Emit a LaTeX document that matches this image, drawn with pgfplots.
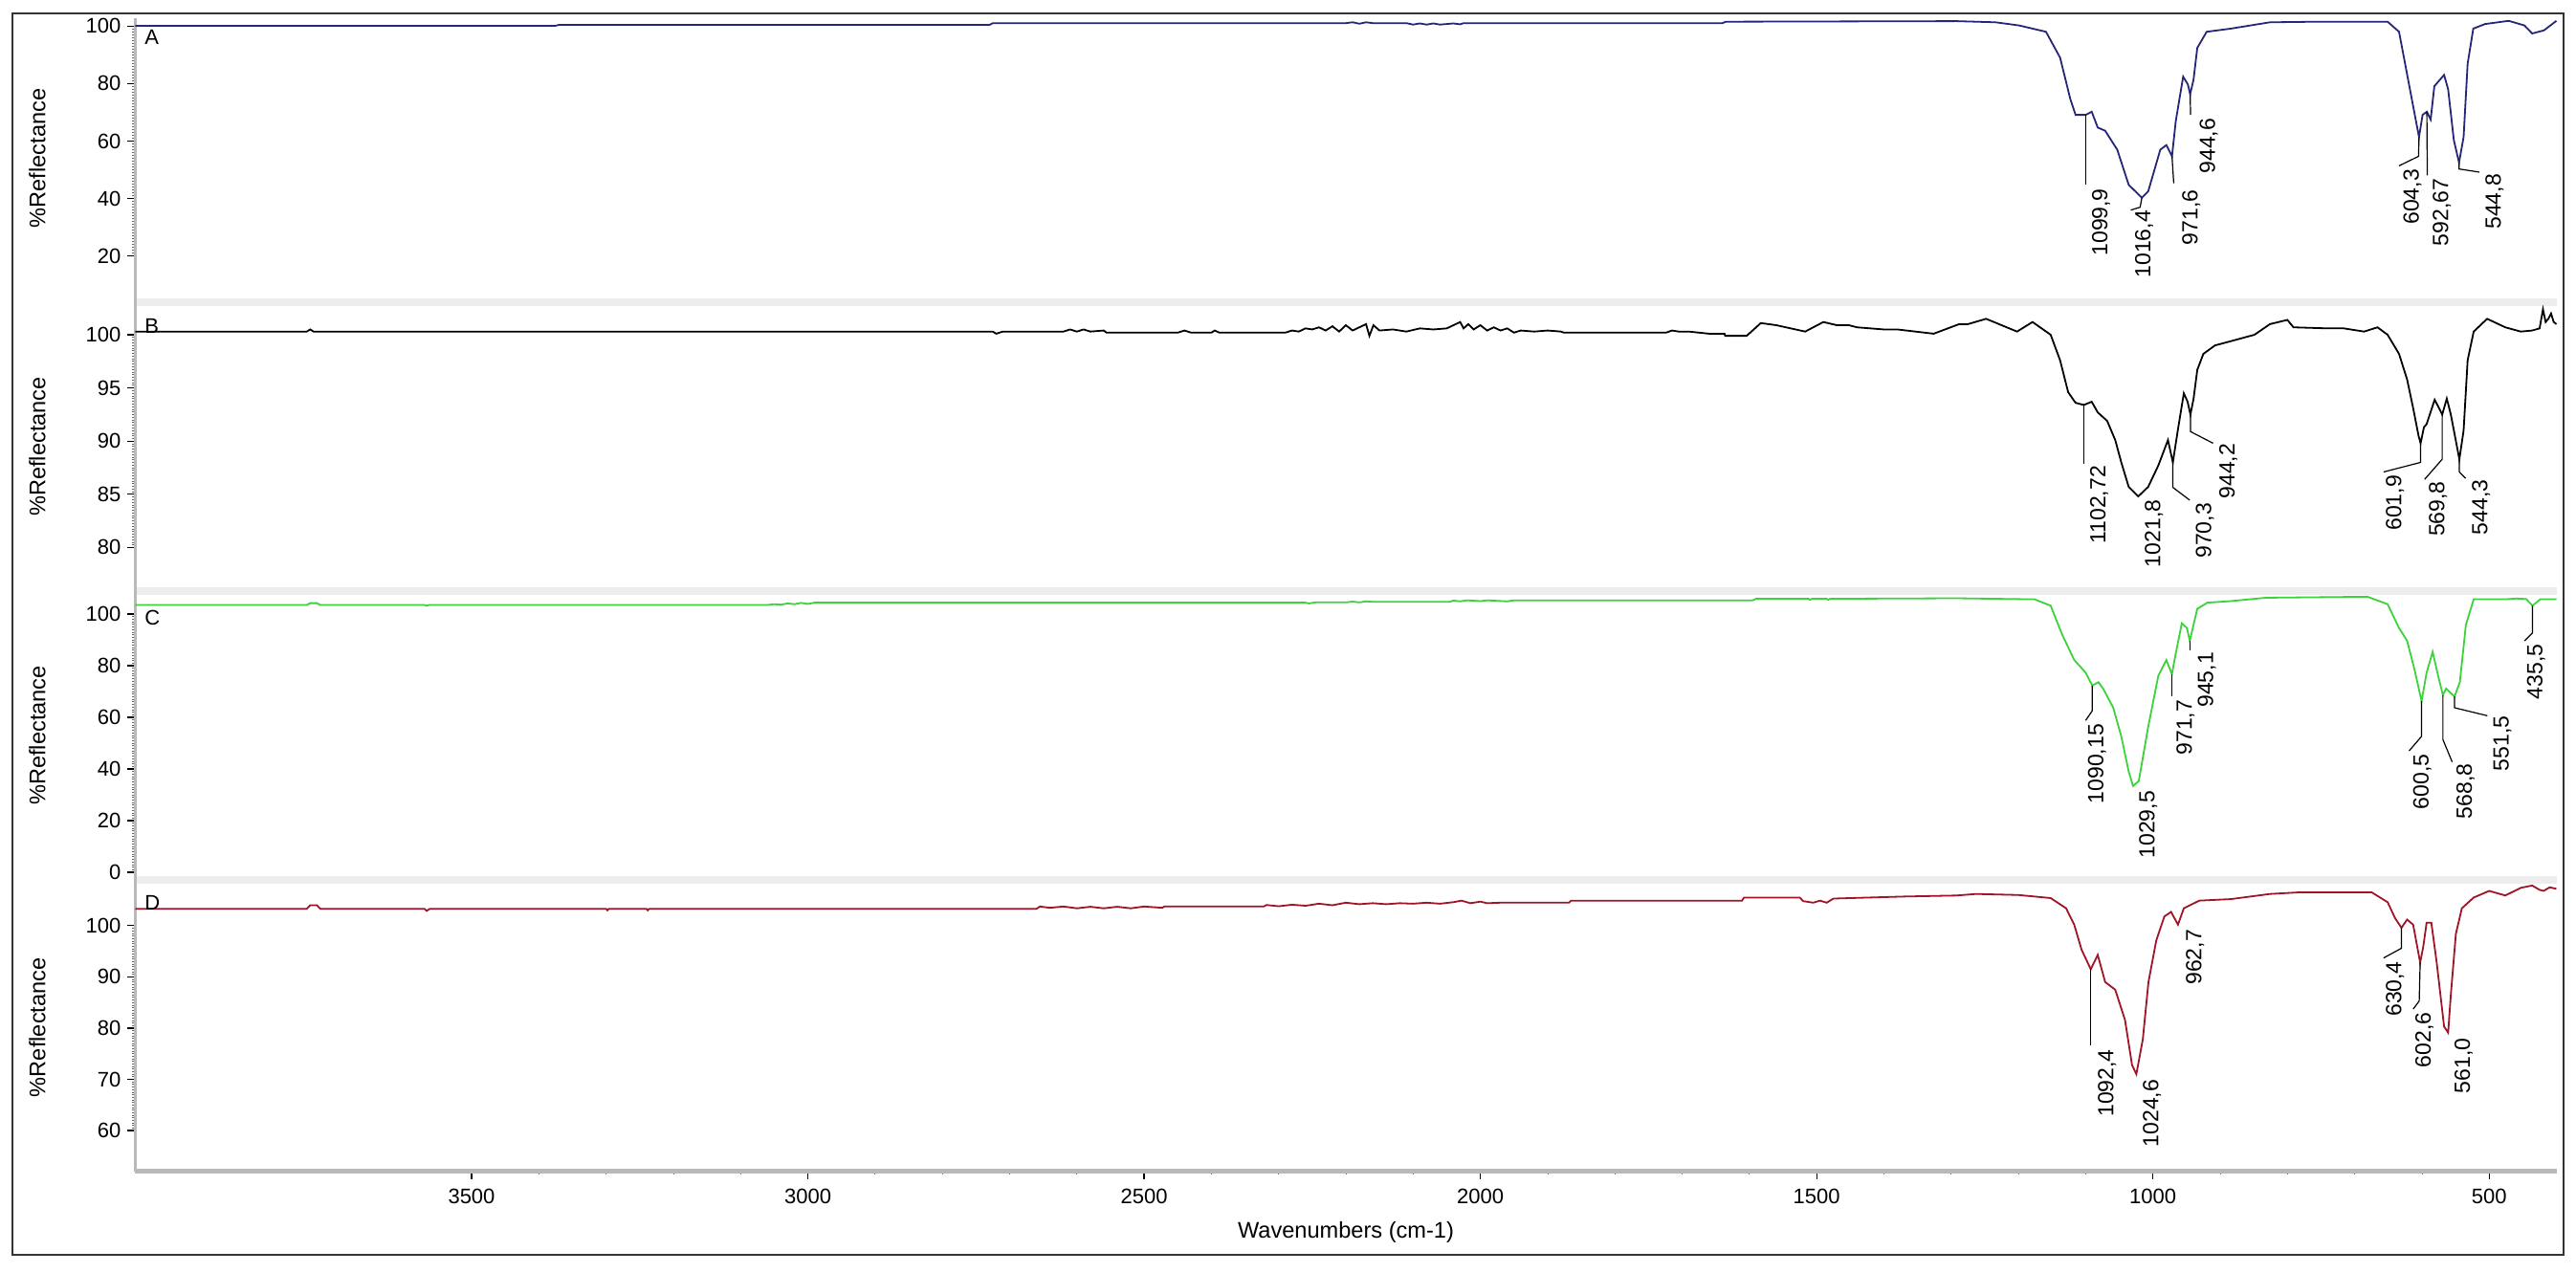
\documentclass[border=0pt]{standalone}
\usepackage{fontspec}
\setmainfont{Liberation Sans}
\usepackage{pgfplots}
\pgfplotsset{compat=1.18}
\definecolor{cA}{RGB}{38,38,120}
\definecolor{cC}{RGB}{60,210,60}
\definecolor{cD}{RGB}{160,20,40}
\newcommand{\lbl}{\fontsize{11.5}{13}\selectfont}
\pgfplotsset{
  spec/.style={
    scale only axis, width=1265.55pt, x dir=reverse, xmin=400, xmax=4000,
    axis y line*=left,
    y axis line style={draw=gray!55, line width=1.5pt, -},
    tick align=outside,
    major tick length=4pt, minor tick length=1.6pt,
    major tick style={black, line width=0.6pt},
    minor tick style={black!60, line width=0.35pt},
    minor y tick num=19,
    yticklabel style={font=\fontsize{11}{13}\selectfont},
    ylabel={\%Reflectance},
    ylabel style={at={(axis description cs:-0.0405,0.5)}, anchor=center, font=\fontsize{11.8}{13}\selectfont},
    /pgf/number format/assume math mode=true,
    /pgf/number format/1000 sep={},
    scaled ticks=false,
    clip=false,
  },
  lead/.style={black, line width=0.6pt, forget plot},
}
\begin{document}
\begin{tikzpicture}
\path[use as bounding box] (0,0) rectangle (1346.5pt,665pt);
\fill[white] (0,0) rectangle (1346.5pt,665pt);
% separator bands
\fill[gray!14] (70.75pt,505pt) rectangle (1336.3pt,509pt);
\fill[gray!14] (70.75pt,354pt) rectangle (1336.3pt,358pt);
\fill[gray!14] (70.75pt,203pt) rectangle (1336.3pt,207pt);
\draw[gray!55, line width=1.5pt] (70.75pt,52.75pt) -- (70.75pt,655.6pt);

% ---------------- Panel A ----------------
\begin{axis}[spec, axis x line=none, at={(70.75pt,509pt)}, anchor=south west, height=146.6pt,
  ymin=5.3, ymax=102.8, ytick={20,40,60,80,100}]
\addplot[cA, line width=0.9pt] coordinates {
(4000,100.1) (3375,100.1) (3370,100.4) (2730,100.4) (2725,101.0) (2200,101.0) (2190,101.3) (2180,100.8) (2170,101.3) (2160,101.0) (2110,101.0) (2100,100.5) (2090,100.9) (2080,100.5) (2070,100.9) (2060,100.5) (2040,100.9) (2030,100.6) (2025,101.0) (1640,101.0) (1635,101.5) (1292,101.7) (1234,101.3) (1199,100.2) (1159,98) (1138,89) (1123,74.8) (1115,69.1) (1099.9,69.1) (1091,70.2) (1082,64.7) (1071,63.6) (1053,57) (1036,44.8) (1016.4,40.3) (1007,42.5) (989,57) (980,58.6) (971.6,54.7) (966,66.9) (955,82.4) (948,79.7) (944.6,76.3) (939.6,81.3) (934,92.4) (920,98) (884,99.1) (826,101.3) (756,101.5) (651,101.5) (634,98) (616,75.8) (604.3,61.4) (599,69.1) (592.67,70.2) (587,67.5) (581.5,79.1) (567,83) (561,78) (552.5,60.3) (544.8,52.5) (538,61.4) (532,86.9) (523.6,99.1) (506,100.7) (471,101.8) (447.5,100.2) (436,97.4) (418.5,98.5) (400,101.8)};
\node[anchor=north west, inner sep=0pt, xshift=4.75pt, yshift=-6.1pt, font=\fontsize{11}{13}\selectfont] at (axis description cs:0,1) {A};
\addplot[lead] coordinates {(1099.9,69.1) (1099.9,44.8)};
\addplot[lead] coordinates {(1016.4,40.3) (1019,37) (1033,36)};
\addplot[lead] coordinates {(971.6,54.7) (969,45.3)};
\addplot[lead] coordinates {(944.6,76.3) (944,69.1)};
\addplot[lead] coordinates {(604.3,61.4) (605,54.7) (634,51.4)};
\addplot[lead] coordinates {(592.67,70.2) (592,48.1)};
\addplot[lead] coordinates {(544.8,52.5) (544.8,50.3) (514.6,49.2)};
\node[rotate=90, anchor=north east, inner sep=0pt, font=\lbl] at (axis cs:1091.1,43.6) {1099,9};
\node[rotate=90, anchor=north east, inner sep=0pt, font=\lbl] at (axis cs:1027,36.0) {1016,4};
\node[rotate=90, anchor=north east, inner sep=0pt, font=\lbl] at (axis cs:957,43.1) {971,6};
\node[rotate=90, anchor=north east, inner sep=0pt, font=\lbl] at (axis cs:931,68.0) {944,6};
\node[rotate=90, anchor=north east, inner sep=0pt, font=\lbl] at (axis cs:628,50.3) {604,3};
\node[rotate=90, anchor=north east, inner sep=0pt, font=\lbl] at (axis cs:584.4,47.0) {592,67};
\node[rotate=90, anchor=north east, inner sep=0pt, font=\lbl] at (axis cs:506,48.6) {544,8};
\end{axis}

% ---------------- Panel B ----------------
\begin{axis}[spec, axis x line=none, at={(70.75pt,358pt)}, anchor=south west, height=147pt,
  ymin=76.26, ymax=102.7, ytick={80,85,90,95,100}]
\addplot[black, line width=0.9pt] coordinates {
(4000,100.3) (3745,100.3) (3740,100.5) (3735,100.3) (2725,100.3) (2720,100.1) (2710,100.3) (2620,100.3) (2610,100.5) (2600,100.3) (2590,100.5) (2580,100.3) (2560,100.4) (2556,100.2) (2450,100.2) (2440,100.4) (2430,100.2) (2400,100.2) (2395,100.4) (2388,100.2) (2290,100.2) (2280,100.4) (2270,100.3) (2260,100.6) (2250,100.5) (2240,100.7) (2230,100.4) (2220,100.8) (2210,100.3) (2200,100.9) (2190,100.4) (2180,100.7) (2170,101.0) (2165,99.9) (2159,100.9) (2150,100.4) (2130,100.5) (2110,100.3) (2090,100.6) (2070,100.5) (2050,100.6) (2040,100.9) (2030,101.2) (2025,100.6) (2018,101.0) (2010,100.5) (2000,100.9) (1990,100.4) (1980,100.7) (1970,100.4) (1960,100.6) (1950,100.2) (1940,100.4) (1920,100.3) (1900,100.4) (1880,100.3) (1876,100.2) (1724,100.2) (1715,100.4) (1705,100.3) (1690,100.3) (1660,100.1) (1637,100.1) (1636,99.9) (1604,99.9) (1583,101.1) (1560,100.9) (1517,100.3) (1490,101.2) (1470,100.9) (1452,100.9) (1440,100.7) (1400,100.5) (1380,100.5) (1326,100.1) (1288,101.0) (1275,101.0) (1248,101.5) (1202,100.3) (1179,101.2) (1152,100) (1138,97.6) (1126,94.6) (1115,93.6) (1102.72,93.4) (1091,93.7) (1082,92.7) (1068,91.9) (1056,90.1) (1047,88.0) (1036,85.7) (1021.8,84.8) (1007,85.7) (992,87.7) (977.6,90.1) (970.3,88.0) (963,91.0) (954,94.5) (948.4,93.7) (944.2,92.5) (939.5,94.0) (934,96.7) (925,98.2) (907.6,99) (884,99.4) (849,100) (826,101) (800,101.4) (791,100.7) (739,100.6) (716,100.6) (686,100.3) (666,100.7) (651,100) (634,98.2) (622,95.8) (613,93.1) (605,90.5) (601.9,89.8) (597,91.3) (593,91.6) (581,93.9) (569.8,92.5) (563,94.0) (557,92.5) (544.3,88.3) (538,91) (532,97.6) (523,100.3) (503,101.5) (476,100.7) (453,100.3) (436,100.4) (425,100.6) (420,102.4) (416,101.2) (412,101.5) (408,102) (404,101.2) (400,101)};
\node[anchor=north west, inner sep=0pt, xshift=4.75pt, yshift=-6.5pt, font=\fontsize{11}{13}\selectfont] at (axis description cs:0,1) {B};
\addplot[lead] coordinates {(1102.72,93.4) (1102.72,87.9)};
\addplot[lead] coordinates {(970.3,88.0) (970.3,85.65) (945.3,84.45)};
\addplot[lead] coordinates {(944.2,92.5) (944.2,90.9) (910.5,89.8)};
\addplot[lead] coordinates {(601.9,89.8) (601.9,88.0) (657,87.1)};
\addplot[lead] coordinates {(569.8,92.5) (569.8,88.3) (596,86.4)};
\addplot[lead] coordinates {(544.3,88.3) (544.3,87.1) (535,86.5)};
\node[rotate=90, anchor=north east, inner sep=0pt, font=\lbl] at (axis cs:1094,87.7) {1102,72};
\node[rotate=90, anchor=north east, inner sep=0pt, font=\lbl] at (axis cs:1012.6,84.5) {1021,8};
\node[rotate=90, anchor=north east, inner sep=0pt, font=\lbl] at (axis cs:936.7,84.2) {970,3};
\node[rotate=90, anchor=north east, inner sep=0pt, font=\lbl] at (axis cs:902,89.8) {944,2};
\node[rotate=90, anchor=north east, inner sep=0pt, font=\lbl] at (axis cs:654,86.8) {601,9};
\node[rotate=90, anchor=north east, inner sep=0pt, font=\lbl] at (axis cs:590,86.25) {569,8};
\node[rotate=90, anchor=north east, inner sep=0pt, font=\lbl] at (axis cs:526,86.4) {544,3};
\end{axis}

% ---------------- Panel C ----------------
\begin{axis}[spec, axis x line=none, at={(70.75pt,207pt)}, anchor=south west, height=147pt,
  ymin=-1.5, ymax=107.4, ytick={0,20,40,60,80,100}]
\addplot[cC, line width=0.9pt] coordinates {
(4000,103.5) (3745,103.5) (3740,104.2) (3730,104.2) (3725,103.5) (3570,103.5) (3567,103.2) (3563,103.5) (3060,103.5) (3050,103.8) (3040,103.6) (3030,104.1) (3020,103.8) (3010,104.3) (3000,103.9) (2990,104.4) (2260,104.4) (2255,104.1) (2245,104.5) (2200,104.5) (2190,104.8) (2180,104.5) (2170,104.9) (2160,104.7) (2046,104.7) (2040,105.2) (2030,104.9) (2020,105.3) (2000,105.0) (1990,105.3) (1960,104.9) (1950,105.3) (1595,105.3) (1590,105.9) (1512,105.9) (1510,105.5) (1507,105.9) (1485,105.9) (1483,105.5) (1480,105.9) (1292,106.1) (1176,105.7) (1152,103.2) (1135,92.1) (1117,82.2) (1100,77.3) (1090.15,72.3) (1081,73.6) (1074,71.1) (1059,63.7) (1047,52.6) (1036,39) (1029.5,33.4) (1021,35.3) (1007,56.3) (992,76) (980,82.2) (971.7,76.7) (966,84.7) (957,96.4) (949.5,94.6) (945.1,89.6) (939.6,95.8) (934,102) (919,104.4) (884,105) (832,106.3) (681,106.7) (651,103.8) (634,94.6) (622,89.6) (611,78.5) (600.5,66.2) (593,77.3) (584,85.3) (577,77.3) (568.8,68.6) (564,71.1) (551.5,68) (543.6,73.6) (534.6,95.8) (523,105.7) (476,105.7) (460,106) (445,105.8) (435.5,103.2) (424,105.7) (400,105.7)};
\node[anchor=north west, inner sep=0pt, xshift=4.75pt, yshift=-8pt, font=\fontsize{11}{13}\selectfont] at (axis description cs:0,1) {C};
\addplot[lead] coordinates {(1090.15,72.3) (1090.15,62.5) (1100,58.8)};
\addplot[lead] coordinates {(971.7,76.7) (971.7,68)};
\addplot[lead] coordinates {(945.1,89.6) (945.1,85.9)};
\addplot[lead] coordinates {(600.5,66.2) (600.5,52.6) (619,47)};
\addplot[lead] coordinates {(568.8,68.6) (568.8,51.4) (555,42.7)};
\addplot[lead] coordinates {(551.5,68) (551.5,63.7) (502.7,60.6)};
\addplot[lead] coordinates {(435.5,103.2) (435.5,92.7) (447.5,89.6)};
\node[rotate=90, anchor=north east, inner sep=0pt, font=\lbl] at (axis cs:1097,57.5) {1090,15};
\node[rotate=90, anchor=north east, inner sep=0pt, font=\lbl] at (axis cs:1021,31.6) {1029,5};
\node[rotate=90, anchor=north east, inner sep=0pt, font=\lbl] at (axis cs:965.6,66.8) {971,7};
\node[rotate=90, anchor=north east, inner sep=0pt, font=\lbl] at (axis cs:933.8,85.3) {945,1};
\node[rotate=90, anchor=north east, inner sep=0pt, font=\lbl] at (axis cs:613.4,45.8) {600,5};
\node[rotate=90, anchor=north east, inner sep=0pt, font=\lbl] at (axis cs:549,42.1) {568,8};
\node[rotate=90, anchor=north east, inner sep=0pt, font=\lbl] at (axis cs:493.9,60.6) {551,5};
\node[rotate=90, anchor=north east, inner sep=0pt, font=\lbl] at (axis cs:444.4,88.4) {435,5};
\end{axis}

% ---------------- Panel D ----------------
\begin{axis}[spec, at={(70.75pt,52.75pt)}, anchor=south west, height=150.25pt,
  ymin=52.06, ymax=108.2, ytick={60,70,80,90,100},
  axis x line*=bottom,
  x axis line style={draw=gray!55, line width=2.5pt, -},
  xtick={500,1000,1500,2000,2500,3000,3500}, minor x tick num=4,
  xticklabel style={font=\fontsize{11}{13}\selectfont, yshift=-2pt},
  xlabel={Wavenumbers (cm-1)},
  xlabel style={at={(axis description cs:0.5,-0.211)}, anchor=center, font=\fontsize{11.8}{13}\selectfont}]
\addplot[cD, line width=0.9pt] coordinates {
(4000,103.3) (3745,103.3) (3740,104.0) (3730,104.0) (3725,103.3) (3570,103.3) (3567,102.9) (3562,103.3) (3300,103.3) (3298,103.0) (3296,103.3) (3240,103.3) (3238,103.0) (3236,103.3) (2660,103.3) (2655,103.75) (2640,103.5) (2620,103.75) (2600,103.4) (2580,103.7) (2560,103.4) (2540,103.7) (2520,103.4) (2500,103.75) (2473,103.5) (2470,103.75) (2322,103.75) (2318,104.05) (2300,103.8) (2280,104.1) (2260,103.9) (2240,104.3) (2220,104.0) (2200,104.5) (2180,104.2) (2160,104.4) (2140,104.2) (2120,104.4) (2100,104.3) (2080,104.5) (2060,104.3) (2040,104.6) (2028,104.9) (2015,104.4) (2000,104.7) (1990,104.4) (1970,104.5) (1868,104.5) (1865,104.9) (1611,104.9) (1608,105.5) (1525,105.5) (1520,104.8) (1505,104.5) (1495,104.9) (1485,104.5) (1475,105.3) (1370,105.7) (1292,105.9) (1263,106.2) (1200,106) (1152,105.4) (1129,103.4) (1117,100.2) (1106,95.3) (1092.4,91.5) (1082,94.3) (1071,89) (1056,87.5) (1041.5,81.6) (1031,72.8) (1024.6,71) (1015,77.8) (1006.6,89) (995,97.1) (983,101.8) (973,102.7) (962.7,100.2) (954,103.4) (931,104.9) (884,105.2) (826,106.2) (785,106.5) (674.5,106.5) (651,104.6) (640,101.5) (630.4,99.6) (622,101.2) (613,100.2) (602.6,92.8) (598,95.9) (593,100.6) (586,100.6) (578,92.8) (567,80.3) (561,79.1) (557,86.5) (549.5,98.4) (540.6,103.4) (523,105.5) (500,106.8) (476,105.9) (453,107.4) (436,107.85) (425,107) (419,106.8) (410,107.5) (400,107.2)};
\node[anchor=north west, inner sep=0pt, xshift=4.75pt, yshift=-6pt, font=\fontsize{11}{13}\selectfont] at (axis description cs:0,1) {D};
\addplot[lead] coordinates {(1092.4,91.5) (1092.4,76.6)};
\addplot[lead] coordinates {(630.4,99.6) (630.4,95.6) (657,93.7)};
\addplot[lead] coordinates {(602.6,92.8) (604,85.3) (613,83.7)};
\node[rotate=90, anchor=north east, inner sep=0pt, font=\lbl] at (axis cs:1082,75.9) {1092,4};
\node[rotate=90, anchor=north east, inner sep=0pt, font=\lbl] at (axis cs:1015.2,70) {1024,6};
\node[rotate=90, anchor=north east, inner sep=0pt, font=\lbl] at (axis cs:951.3,99.3) {962,7};
\node[rotate=90, anchor=north east, inner sep=0pt, font=\lbl] at (axis cs:654,93.1) {630,4};
\node[rotate=90, anchor=north east, inner sep=0pt, font=\lbl] at (axis cs:610.4,83.1) {602,6};
\node[rotate=90, anchor=north east, inner sep=0pt, font=\lbl] at (axis cs:552,78.1) {561,0};
\end{axis}

% outer frame
\draw[black!80, line width=1pt] (6.5pt,9pt) rectangle (1340pt,658pt);
\end{tikzpicture}
\end{document}
